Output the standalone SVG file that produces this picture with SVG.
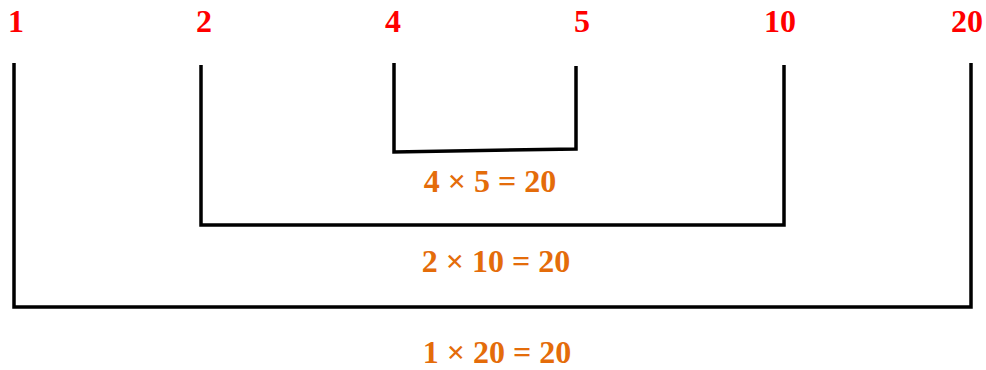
<svg xmlns="http://www.w3.org/2000/svg" width="986" height="370" viewBox="0 0 986 370">
<style>
.num{font-family:"Liberation Serif","Times New Roman",serif;font-weight:bold;font-size:32px;fill:#FF0000;text-anchor:middle}
.eq{font-family:"Liberation Serif","Times New Roman",serif;font-weight:bold;font-size:32px;fill:#E46C0A;text-anchor:middle}
.br{fill:none;stroke:#000;stroke-width:3.5;stroke-linejoin:miter}
</style>
<rect width="986" height="370" fill="#fff"/>
<g id="labels">
<g id="n1"><text class="num" x="16" y="32">1</text></g>
<g id="n2"><text class="num" x="204" y="32">2</text></g>
<g id="n4"><text class="num" x="393" y="32">4</text></g>
<g id="n5"><text class="num" x="582" y="32">5</text></g>
<g id="n10"><text class="num" x="780" y="32">10</text></g>
<g id="n20"><text class="num" x="967" y="32">20</text></g>
</g>
<g id="connectors">
<path class="br" d="M14 63 V307 H971 V63"/>
<path class="br" d="M201 65 V225 H784 V65"/>
<path class="br" d="M394 63 V152 L576 149 V66"/>
</g>
<g id="equations">
<g id="eq45"><text class="eq" x="490" y="192">4 × 5 = 20</text></g>
<g id="eq210"><text class="eq" x="496" y="272">2 × 10 = 20</text></g>
<g id="eq120"><text class="eq" x="497" y="363">1 × 20 = 20</text></g>
</g>
</svg>
